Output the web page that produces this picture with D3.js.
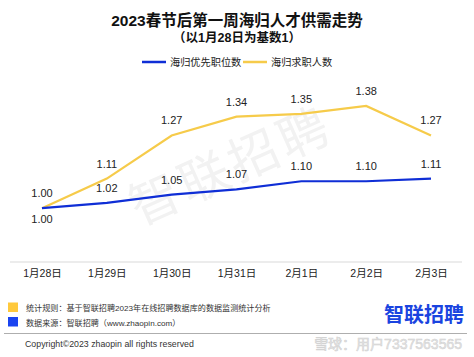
<!DOCTYPE html>
<html><head><meta charset="utf-8">
<script src="https://cdn.jsdelivr.net/npm/d3@7"></script>
<style>body{margin:0;background:#fff}svg{display:block}</style>
</head><body>
<script>
const categories = ["1月28日","1月29日","1月30日","1月31日","2月1日","2月2日","2月3日"];
const demand = [1.00,1.02,1.05,1.07,1.10,1.10,1.11];   // 海归优先职位数
const supply = [1.00,1.11,1.27,1.34,1.35,1.38,1.27];   // 海归求职人数
const seriesNames = ["海归优先职位数","海归求职人数"];
const colors = ["#0f2ed6","#f6cb4a"];

const W=474,H=357;
const font = "'Liberation Sans','Noto Sans CJK SC',sans-serif";
const svg = d3.select("body").append("svg").attr("width",W).attr("height",H)
  .style("font-family",font);

const x = d3.scalePoint().domain(categories).range([42,431]);
const y = d3.scaleLinear().domain([0.8,1.4]).range([262,100.5]);

// title
svg.append("text").attr("x",237).attr("y",26).attr("text-anchor","middle")
  .attr("font-size",15.5).attr("font-weight","bold").attr("fill","#111")
  .text("2023春节后第一周海归人才供需走势");
svg.append("text").attr("x",237).attr("y",42).attr("text-anchor","middle")
  .attr("font-size",12.5).attr("font-weight","bold").attr("fill","#111")
  .text("（以1月28日为基数1）");

// legend
const leg = [{n:seriesNames[0],c:colors[0],x:142},{n:seriesNames[1],c:colors[1],x:243}];
leg.forEach(l=>{
  svg.append("line").attr("x1",l.x).attr("x2",l.x+24).attr("y1",62).attr("y2",62)
    .attr("stroke",l.c).attr("stroke-width",2.5);
  svg.append("text").attr("x",l.x+28).attr("y",66).attr("font-size",10.2).attr("fill","#222").text(l.n);
});

// watermark in plot
svg.append("text").attr("transform","translate(238,182) rotate(-24)")
  .attr("text-anchor","middle").attr("font-size",50)
  .attr("fill","#f2f2f2").attr("letter-spacing",4).text("智联招聘");

// axis
const xAxis = d3.axisBottom(x).tickSize(0).tickPadding(8);
const ax = svg.append("g").attr("transform",`translate(0,${y(0.8)})`).call(xAxis);
ax.select(".domain").remove();
svg.append("line").attr("x1",10).attr("x2",462).attr("y1",y(0.8)).attr("y2",y(0.8))
  .attr("stroke","#d9d9d9").attr("stroke-width",1.2);
ax.selectAll("text").attr("font-size",10.5).attr("fill","#222").attr("font-family",font);

// lines
const line = d3.line().x((d,i)=>x(categories[i])).y(d=>y(d));
svg.append("path").datum(supply).attr("d",line).attr("fill","none")
  .attr("stroke",colors[1]).attr("stroke-width",2.2);
svg.append("path").datum(demand).attr("d",line).attr("fill","none")
  .attr("stroke",colors[0]).attr("stroke-width",2.2);

// labels
const lab = (arr, below) => svg.append("g").selectAll("text").data(arr).join("text")
  .attr("x",(d,i)=>x(categories[i])).attr("y",(d,i)=>y(d)+((below&&below(i))?15:-11))
  .attr("text-anchor","middle").attr("font-size",11).attr("fill","#222")
  .text(d=>d.toFixed(2));
lab(supply);
lab(demand, i=>i===0);

// footer
svg.append("rect").attr("x",8).attr("y",302.5).attr("width",10).attr("height",9.5).attr("fill","#ffc93c");
svg.append("rect").attr("x",8).attr("y",317).attr("width",10).attr("height",9.5).attr("fill","#1a44f0");
svg.append("text").attr("x",26).attr("y",310.5).attr("font-size",8.1).attr("fill","#333")
  .text("统计规则：基于智联招聘2023年在线招聘数据库的数据监测统计分析");
svg.append("text").attr("x",26).attr("y",325.5).attr("font-size",8.1).attr("fill","#333")
  .text("数据来源：智联招聘（www.zhaopin.com）");
svg.append("text").attr("x",464).attr("y",322).attr("text-anchor","end")
  .attr("font-size",20).attr("font-weight","bold").attr("fill","#1a44e0").text("智联招聘");
svg.append("line").attr("x1",4).attr("x2",467).attr("y1",333.5).attr("y2",333.5)
  .attr("stroke","#999").attr("stroke-width",0.8);
svg.append("text").attr("x",25).attr("y",347).attr("font-size",8.8).attr("fill","#333")
  .text("Copyright©2023 zhaopin all rights reserved");
svg.append("text").attr("x",462).attr("y",349).attr("text-anchor","end")
  .attr("font-size",14).attr("fill","#e8e8e8").attr("stroke","#cfcfcf").attr("stroke-width",0.5)
  .text("雪球：用户7337563565");
</script>
</body></html>
